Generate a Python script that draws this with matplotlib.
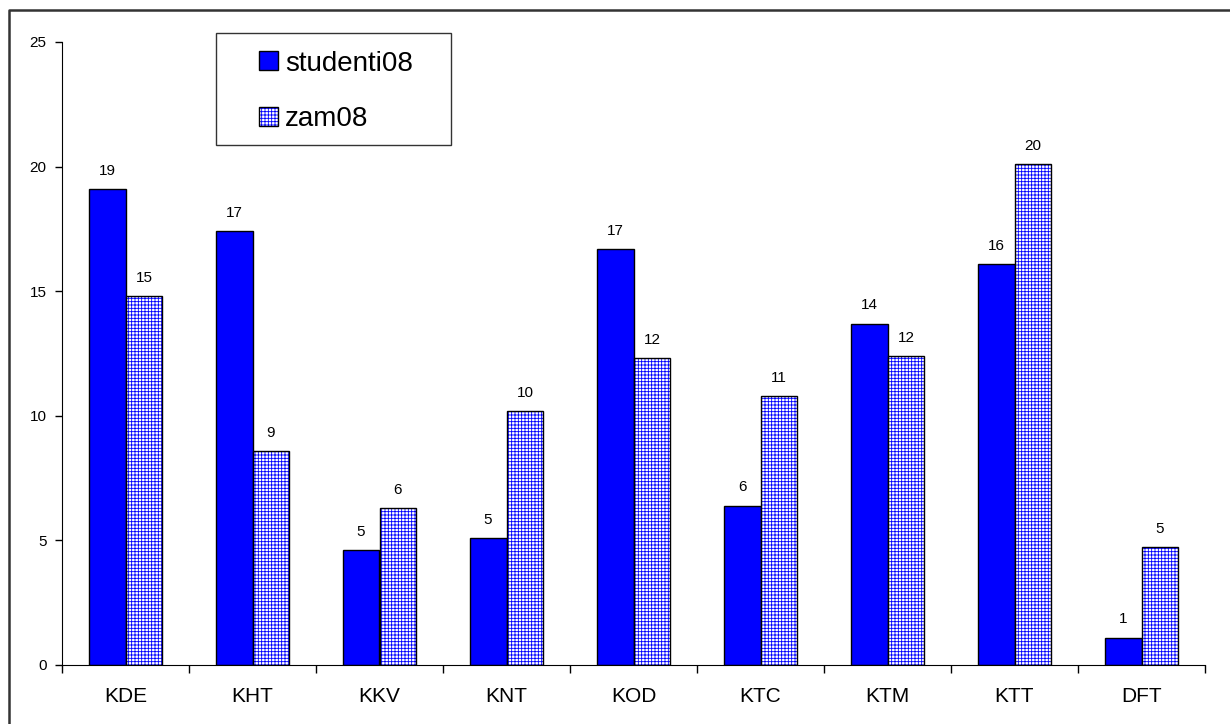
import numpy as np
import matplotlib.pyplot as plt
from matplotlib.patches import Patch, Rectangle
from matplotlib.lines import Line2D

plt.rcParams['font.family'] = ['Liberation Sans', 'DejaVu Sans']
plt.rcParams['hatch.linewidth'] = 0.6

categories = ['KDE', 'KHT', 'KKV', 'KNT', 'KOD', 'KTC', 'KTM', 'KTT', 'DFT']
studenti08 = [19.1, 17.4, 4.6, 5.1, 16.7, 6.4, 13.7, 16.1, 1.1]
zam08 = [14.8, 8.6, 6.3, 10.2, 12.3, 10.8, 12.4, 20.1, 4.75]

fig = plt.figure(figsize=(12.3, 7.24), dpi=100)
ax = fig.add_axes([62/1230, 1-665/724, (1205-62)/1230, (665-42)/724])

x = np.arange(len(categories))
w = 0.29

ax.bar(x - w/2, studenti08, w, color='#0000ff', edgecolor='black', linewidth=1, zorder=2)
# hatched bars: blue grid first, black outline on top
ax.bar(x + w/2, zam08, w, color='white', edgecolor='#0000ff', hatch='+++++', linewidth=0, zorder=2)
ax.bar(x + w/2, zam08, w, fill=False, edgecolor='black', linewidth=1, zorder=3)

for xi, v in zip(x - w/2, studenti08):
    ax.annotate(str(int(round(v))), (xi, v), xytext=(0, 8), textcoords='offset points',
                ha='center', va='bottom', fontsize=11)
for xi, v in zip(x + w/2, zam08):
    ax.annotate(str(int(round(v))), (xi, v), xytext=(0, 8), textcoords='offset points',
                ha='center', va='bottom', fontsize=11)

ax.set_xlim(-0.5, len(categories) - 0.5)
ax.set_ylim(0, 25)
ax.set_yticks([0, 5, 10, 15, 20, 25])
ax.set_xticks(x)
ax.set_xticklabels(categories, fontsize=15)
ax.set_xticks(np.arange(len(categories) + 1) - 0.5, minor=True)
ax.tick_params(axis='x', which='major', length=0, pad=16)
ax.tick_params(axis='x', which='minor', length=6, width=1, direction='out')
ax.tick_params(axis='y', length=5, width=1, labelsize=11, pad=6)
ax.spines['top'].set_visible(False)
ax.spines['right'].set_visible(False)

# legend entries without frame, frame drawn separately
h_solid = Patch(facecolor='#0000ff', edgecolor='black', linewidth=1)
h_hatch = (Patch(facecolor='white', edgecolor='#0000ff', hatch='+++++', linewidth=0),
           Patch(fill=False, edgecolor='black', linewidth=1))
ax.legend([h_solid, h_hatch], ['studenti08', 'zam08'],
          loc='center left', bbox_to_anchor=(259/1230, 1-91.5/724),
          bbox_transform=fig.transFigure, fontsize=20,
          handlelength=0.68, handleheight=0.68, handletextpad=0.25,
          labelspacing=1.07, borderpad=0, borderaxespad=0, frameon=False)
fig.add_artist(Rectangle((216/1230, 1-145/724), 235/1230, 112/724,
                         transform=fig.transFigure, fill=False,
                         edgecolor='#333333', linewidth=1))

# outer chart frame (only top and left edges are visible)
fig.add_artist(Line2D([9/1230, 9/1230, 1.0], [0.0, 1-10/724, 1-10/724],
                      transform=fig.transFigure, color='#333333', linewidth=1.8))

fig.savefig('out.png', dpi=100)
